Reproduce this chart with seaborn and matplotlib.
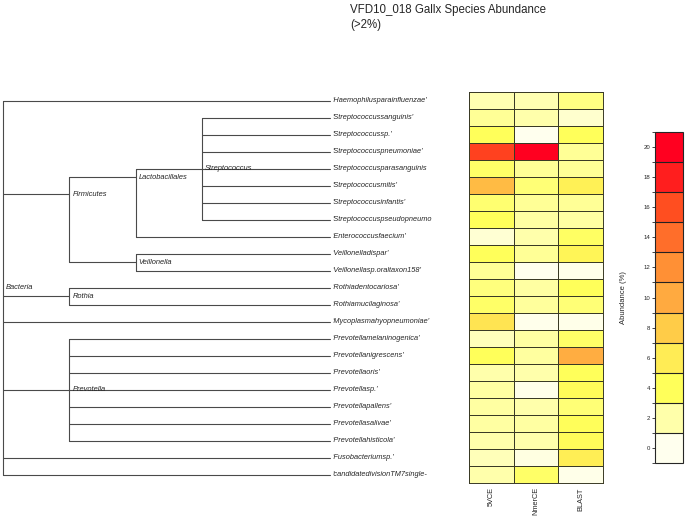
import numpy as np
import pandas as pd
import matplotlib
matplotlib.use("Agg")
import matplotlib.pyplot as plt
from matplotlib.colors import ListedColormap, LinearSegmentedColormap, BoundaryNorm
from matplotlib.cm import ScalarMappable
import seaborn as sns

sns.set_style("white")
plt.rcParams['font.family'] = ['Liberation Sans', 'DejaVu Sans']

# -------------------------------
# Data
# -------------------------------
species = ["'Haemophilusparainfluenzae'", "'Streptococcussanguinis'", "'Streptococcussp.'",
           "'Streptococcuspneumoniae'", "'Streptococcusparasanguinis", "'Streptococcusmitis'",
           "'Streptococcusinfantis'", "'Streptococcuspseudopneumo", "'Enterococcusfaecium'",
           "'Veillonelladispar'", "'Veillonellasp.oraltaxon158'", "'Rothiadentocariosa'",
           "'Rothiamucilaginosa'", "'Mycoplasmahyopneumoniae'", "'Prevotellamelaninogenica'",
           "'Prevotellanigrescens'", "'Prevotellaoris'", "'Prevotellasp.'", "'Prevotellapallens'",
           "'Prevotellasalivae'", "'Prevotellahisticola'", "'Fusobacteriumsp.'",
           "'candidatedivisionTM7single-"]
methods = ["5VCE", "NmerCE", "BLAST"]

vce = [1.8, 2.5, 4.0, 16.5, 3.7, 9.0, 3.5, 4.0, 0.8, 4.0, 2.5, 3.2, 3.7, 6.5, 1.5, 4.0,
       2.0, 2.2, 2.2, 2.2, 2.0, 1.6, 2.0]
nmer = [1.8, 2.0, 0.0, 20.5, 2.5, 3.3, 2.5, 2.2, 2.0, 2.5, 0.0, 2.2, 2.4, 0.1, 2.2, 2.3,
        2.0, 0.2, 2.0, 2.2, 2.0, 0.4, 3.7]
blast = [3.0, 1.0, 4.0, 2.5, 2.5, 5.5, 2.5, 2.2, 3.8, 5.0, 0.2, 4.0, 3.3, 0.2, 3.7, 9.8,
         4.0, 4.5, 3.3, 4.2, 4.3, 5.8, 0.2]

# taxonomy tree: (label, children); ints are leaf row indices
tree = ("Bacteria", [0,
                     ("Firmicutes", [("Lactobacillales", [("Streptococcus", [1, 2, 3, 4, 5, 6, 7]), 8]),
                                     ("Veillonella", [9, 10])]),
                     ("Rothia", [11, 12]),
                     13,
                     ("Prevotella", [14, 15, 16, 17, 18, 19, 20]),
                     21, 22])

bin_colors = ["#FFFFEE", "#FFFFAA", "#FFFF5A", "#FFEC55", "#FFCC48", "#FFAA40",
              "#FF9035", "#FF6E2A", "#FF4E20", "#FF1E1E", "#FF0020"]
bar_ticks = list(range(0, 21, 2))

df = pd.DataFrame({"5VCE": vce, "NmerCE": nmer, "BLAST": blast}, index=species)

# -------------------------------
# Figure layout (pixel based)
# -------------------------------
W, H = 688, 519
fig = plt.figure(figsize=(W / 100, H / 100), dpi=100)

def px_axes(x0, y0, x1, y1):
    return fig.add_axes([x0 / W, 1 - y1 / H, (x1 - x0) / W, (y1 - y0) / H])

hm_top, hm_bot = 92, 483

# heatmap
ax_hm = px_axes(469, hm_top, 603, hm_bot)
cmap_cont = LinearSegmentedColormap.from_list("abund", bin_colors)
sns.heatmap(df, ax=ax_hm, cmap=cmap_cont, vmin=0, vmax=20, cbar=False,
            linewidths=0.6, linecolor="#3a3a25", yticklabels=False)
ax_hm.set_xticklabels(methods, rotation=90, fontsize=5.3, va="top")
ax_hm.tick_params(axis="x", length=0, pad=3)
ax_hm.set_xlabel("")
for s in ax_hm.spines.values():
    s.set_visible(True)
    s.set_color("#3a3a25")
    s.set_linewidth(0.7)

# tree
ax_tr = px_axes(0, hm_top, 469, hm_bot)
ax_tr.set_xlim(0, 469)
ax_tr.set_ylim(len(species) - 0.5, -0.5)
ax_tr.axis("off")

depth_x = lambda d: 3 + 66.4 * d
leaf_end = 330
line_kw = dict(color="#4a4a4a", lw=0.8)

def leaves(node):
    if isinstance(node, int):
        return [node]
    out = []
    for c in node[1]:
        out += leaves(c)
    return out

def draw(node, depth):
    name, children = node
    ys = []
    for c in children:
        y = np.mean(leaves(c))
        ys.append(y)
        x_end = leaf_end if isinstance(c, int) else depth_x(depth + 1)
        ax_tr.plot([depth_x(depth), x_end], [y, y], **line_kw)
        if not isinstance(c, int):
            draw(c, depth + 1)
    ax_tr.plot([depth_x(depth), depth_x(depth)], [min(ys), max(ys)], **line_kw)
    ax_tr.text(depth_x(depth) + 3, np.mean(leaves(node)), name, fontsize=5.4,
               style="italic", va="center", ha="left")

draw(tree, 0)
for i, sp in enumerate(species):
    ax_tr.text(leaf_end + 2, i, sp, fontsize=5.3, style="italic", va="center", ha="left")

# colorbar
ax_cb = px_axes(655, 132, 683, 463)
norm = BoundaryNorm(np.arange(-1, 22, 2), len(bin_colors))
sm = ScalarMappable(norm=norm, cmap=ListedColormap(bin_colors))
cb = fig.colorbar(sm, cax=ax_cb, ticks=bar_ticks, drawedges=True)
cb.outline.set_linewidth(0.8)
cb.dividers.set_color("#222222")
cb.dividers.set_linewidth(0.8)
ax_cb.yaxis.set_ticks_position("left")
ax_cb.yaxis.set_label_position("left")
ax_cb.tick_params(labelsize=4.3, length=2.5, width=0.6, pad=1)
ax_cb.set_ylabel("Abundance (%)", fontsize=5.5, labelpad=12)

# title
fig.text(350 / W, 1 - 4 / H, "VFD10_018 Gallx Species Abundance\n(>2%)",
         fontsize=8.3, ha="left", va="top", linespacing=1.35)

fig.savefig("out.png", dpi=100)
